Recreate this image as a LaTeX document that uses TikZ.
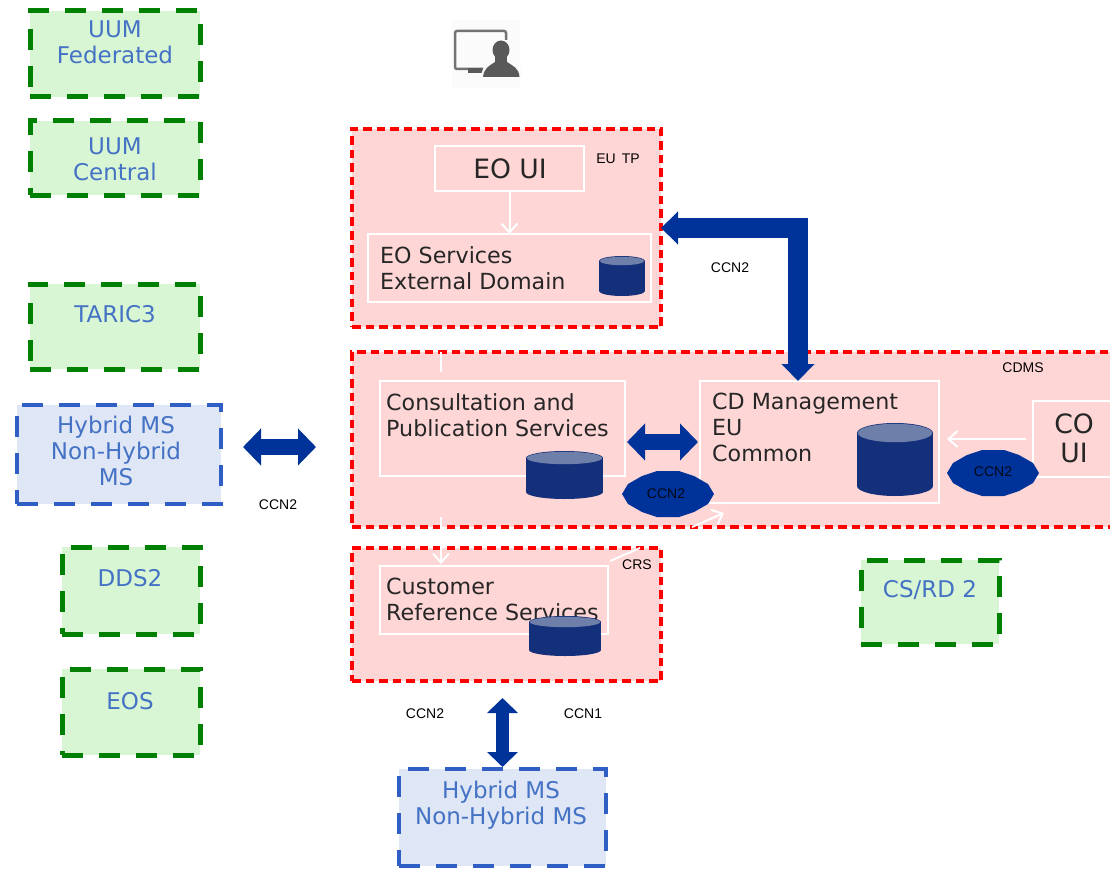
\documentclass[tikz,border=0pt]{standalone}
\usepackage{fontspec}
\setmainfont{DejaVu Sans}
\newfontfamily\smallfam{Liberation Sans}
\usetikzlibrary{arrows.meta,calc}
\definecolor{redfill}{HTML}{FFD6D6}
\definecolor{greenfill}{HTML}{D9F6D4}
\definecolor{bluefill}{HTML}{DFE6F5}
\definecolor{ddgreen}{HTML}{008000}
\definecolor{ddblue}{HTML}{2F5FC4}
\definecolor{labelblue}{HTML}{4472C4}
\definecolor{block}{HTML}{003399}
\definecolor{navy}{HTML}{14307A}
\definecolor{navytop}{HTML}{6E80AA}
\definecolor{icongray}{HTML}{595959}
\tikzset{
  x=1pt,y=-1pt,
  box/.style={inner sep=0pt,outer sep=0pt,anchor=center},
  greenbox/.style={box,fill=greenfill,draw=ddgreen,line width=5pt,dash pattern=on 21pt off 16pt},
  bluebox/.style={box,fill=bluefill,draw=ddblue,line width=4.5pt,dash pattern=on 21pt off 16pt},
  redbox/.style={box,fill=redfill,draw=red,line width=3.2pt,dash pattern=on 8.5pt off 5pt},
  whitebox/.style={box,draw=white,line width=1.3pt},
  bluelabel/.style={inner sep=0pt,text=labelblue,font=\fontsize{23}{26}\selectfont,align=center},
  darklabel/.style={inner sep=0pt,text=black!85,font=\fontsize{22.2}{26}\selectfont,align=left,anchor=north west},
  biglabel/.style={inner sep=0pt,text=black!85,font=\fontsize{26.6}{29}\selectfont,align=center},
  tinylabel/.style={inner sep=0pt,text=black,font=\smallfam\fontsize{14}{16}\selectfont},
  dbname/.style={inner sep=0pt,outer sep=0pt},
  blockarrow/.style={draw=block,line width=20pt,
    {Triangle[length=17pt,width=32pt]}-{Triangle[length=17pt,width=32pt]}},
  blockarrowthin/.style={draw=block,line width=16pt,
    {Triangle[length=18pt,width=36pt]}-{Triangle[length=18pt,width=36pt]}},
  blockarrowslim/.style={draw=block,line width=13pt,
    {Triangle[length=15pt,width=30pt]}-{Triangle[length=15pt,width=30pt]}},
  whitearrow/.style={draw=white,line width=2pt,-{Straight Barb[length=9pt,width=16pt]}},
  whiteline/.style={draw=white,line width=2pt},
  octa/.style={fill=block},
}
\newcommand{\octagonat}[2]{\fill[octa,shift={(#1,#2)}] (-46,0) -- (-40,-10) -- (-26,-18) -- (-11,-23) -- (11,-23) -- (26,-18) -- (40,-10) -- (46,0) -- (40,10) -- (26,18) -- (11,23) -- (-11,23) -- (-26,18) -- (-40,10) -- cycle;}
% name, left, top, right, bottom, ellipse half height
\newcommand{\database}[6]{%
  \fill[navy] (#2,#3+#6) rectangle (#4,#5-#6);
  \fill[navy] ({(#2+#4)/2},#5-#6) ellipse[x radius={(#4-#2)/2},y radius=#6];
  \fill[navy] ({(#2+#4)/2},#3+#6) ellipse[x radius={(#4-#2)/2},y radius=#6];
  \fill[navytop] ({(#2+#4)/2},#3+#6) ellipse[x radius={(#4-#2)/2-.8},y radius=#6-.8];
  \node[dbname,minimum width=#4-#2,minimum height=#5-#3] (#1) at ({(#2+#4)/2},{(#3+#5)/2}) {};}
\begin{document}
\begin{tikzpicture}
\useasboundingbox (0,0) rectangle (1110,869);
\clip (0,0) rectangle (1110,869);
% external system boxes
\node[greenbox,minimum width=170pt,minimum height=86pt] (uumf) at (115,54) {};
\node[bluelabel] (uumft) at (115,42) {UUM\\Federated};
\node[greenbox,minimum width=170pt,minimum height=74pt] (uumc) at (115,158) {};
\node[bluelabel] (uumct) at (115,159) {UUM\\Central};
\node[greenbox,minimum width=170pt,minimum height=85pt] (taric) at (115,326.5) {};
\node[bluelabel] (tarict) at (115,314) {TARIC3};
\node[bluebox,minimum width=204pt,minimum height=99pt] (hyb) at (119,454.5) {};
\node[bluelabel] (hybt) at (116,451) {Hybrid MS\\Non-Hybrid\\MS};
\node[greenbox,minimum width=138pt,minimum height=87pt] (dds) at (131,590.5) {};
\node[bluelabel] (ddst) at (130,578) {DDS2};
\node[greenbox,minimum width=138pt,minimum height=86pt] (eos) at (131,712) {};
\node[bluelabel] (eost) at (130,701) {EOS};
\node[greenbox,minimum width=138pt,minimum height=84pt] (csrd) at (930,602) {};
\node[bluelabel] (csrdt) at (930,590) {CS/RD 2};
\node[bluebox,minimum width=207pt,minimum height=97pt] (hb) at (502.5,817.5) {};
\node[bluelabel] (hbt) at (501,805) {Hybrid MS\\Non-Hybrid MS};
% red domains
\node[redbox,minimum width=309pt,minimum height=198pt] (eutp) at (506.5,228) {};
\node[redbox,minimum width=790pt,minimum height=175pt] (cdms) at (747,439.5) {};
\node[redbox,minimum width=309pt,minimum height=133pt] (crs) at (506.5,614.5) {};
% inner boxes
\node[whitebox,minimum width=149pt,minimum height=45pt] (eoui) at (509.5,168.5) {};
\node[biglabel] (eouit) at (510,168.5) {EO UI};
\node[whitebox,minimum width=283pt,minimum height=68pt] (eosv) at (509.5,268) {};
\node[darklabel] (eosvt) at (380,246) {EO Services\\External Domain};
\node[whitebox,minimum width=245pt,minimum height=95pt] (cons) at (502.5,428.5) {};
\node[darklabel] (const) at (386,393) {Consultation and\\Publication Services};
\node[whitebox,minimum width=239pt,minimum height=122pt] (cd) at (819.5,442) {};
\node[darklabel] (cdt) at (712,393) {CD Management\\EU\\Common};
\node[whitebox,minimum width=100pt,minimum height=76pt] (co) at (1083,439) {};
\node[biglabel] (cot) at (1074,438.5) {CO\\UI};
\node[whitebox,minimum width=228pt,minimum height=68pt] (cust) at (494,600) {};
\node[darklabel] (custt) at (386,578) {Customer\\Reference Services};
% databases
\database{db1}{599}{256}{645}{296}{5}
\database{db2}{526}{451}{603}{499}{7}
\database{db3}{857}{423}{933}{496}{10}
\database{db4}{529}{616}{601}{656}{6}
% small labels
\node[tinylabel] (lbla) at (618,159) {EU\hspace{6pt}TP};
\node[tinylabel] (lblb) at (730,268) {CCN2};
\node[tinylabel] (lblc) at (1023,368) {CDMS};
\node[tinylabel] (lbld) at (637,565) {CRS};
\node[tinylabel] (lble) at (278,505) {CCN2};
\node[tinylabel] (lblf) at (425,714) {CCN2};
\node[tinylabel] (lblg) at (583,714) {CCN1};
% white connectors
\coordinate (w1a) at (441,352); \coordinate (w1b) at (441,372);
\coordinate (w2a) at (441,517); \coordinate (w2b) at (441,564);
\coordinate (w3a) at (610,561); \coordinate (w3b) at (640,548);
\coordinate (w4a) at (692,527); \coordinate (w4b) at (724,513);
\draw[whitearrow] (eoui.south) -- (eosv.north);
\draw[whitearrow,shorten <=7pt,shorten >=8pt] (co.west) -- (co.west -| cd.east);
\draw[whiteline] (w1a) -- (w1b);
\draw[whitearrow] (w2a) -- (w2b);
\draw[whiteline] (w3a) -- (w3b);
\draw[whitearrow] (w4a) -- (w4b);
% block connectors
\draw[blockarrow,miter limit=10] (eutp.east) -| ([xshift=-21.5pt]cd.north);
\draw[blockarrowthin,shorten <=22pt,shorten >=36pt] ([yshift=7.5pt]hyb.east) -- ([yshift=7.5pt]hyb.east -| cdms.west);
\draw[blockarrowthin,shorten <=2pt,shorten >=2pt] (cons.east |- cd.west) -- (cd.west);
\draw[blockarrowslim,shorten <=17pt,shorten >=2pt] (crs.south -| hb.north) -- (hb.north);
% octagons
\octagonat{668}{494}
\node[tinylabel,text=black!85!block] (oct1) at (666,494) {CCN2};
\octagonat{993}{473}
\node[tinylabel,text=black!85!block] (oct2) at (993,472) {CCN2};
% user icon
\fill[black!1.5] (452,20) rectangle (520,88);
\draw[black!55,line width=2.5pt,rounded corners=2pt] (455,31) rectangle (506,69);
\fill[icongray] (468,68) rectangle (484,73);
\fill[black!1.5] (490,40) rectangle (514,66);
\fill[black!1.5] (486,60) -- (492,58) -- (510,58) -- (522,66) -- (522,78) -- (480,78) -- cycle;
\fill[icongray] (501,50) ellipse[x radius=8.5,y radius=9.5];
\fill[icongray] (495,55) rectangle (507,64);
\fill[icongray] (483,77) .. controls (484,68) and (489,66) .. (495,62) -- (507,62) .. controls (513,66) and (519,68) .. (519.5,77) -- cycle;
\end{tikzpicture}
\end{document}
